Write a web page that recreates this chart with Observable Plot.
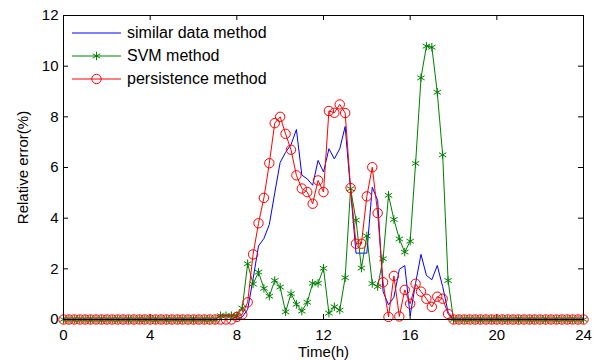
<!DOCTYPE html>
<html><head><meta charset="utf-8">
<script src="https://cdn.jsdelivr.net/npm/d3@7"></script>
<script src="https://cdn.jsdelivr.net/npm/@observablehq/plot@0.6"></script>
<style>
body{margin:0;background:#fff;}
#wrap{position:relative;width:601px;height:360px;font-family:"Liberation Sans",Arial,Helvetica,sans-serif;}
#legend{position:absolute;left:72px;top:21px;font-size:16px;color:#000;}
#legend .row{height:23px;display:flex;align-items:center;white-space:nowrap;}
#legend svg{margin-right:6px;overflow:visible;}
</style></head><body><div id="wrap"></div>
<script>
const hours = [0,0.25,0.5,0.75,1,1.25,1.5,1.75,2,2.25,2.5,2.75,3,3.25,3.5,3.75,4,4.25,4.5,4.75,5,5.25,5.5,5.75,6,6.25,6.5,6.75,7,7.25,7.5,7.75,8,8.25,8.5,8.75,9,9.25,9.5,9.75,10,10.25,10.5,10.75,11,11.25,11.5,11.75,12,12.25,12.5,12.75,13,13.25,13.5,13.75,14,14.25,14.5,14.75,15,15.25,15.5,15.75,16,16.25,16.5,16.75,17,17.25,17.5,17.75,18,18.25,18.5,18.75,19,19.25,19.5,19.75,20,20.25,20.5,20.75,21,21.25,21.5,21.75,22,22.25,22.5,22.75,23,23.25,23.5,23.75,24];
const similarData = [0,0,0,0,0,0,0,0,0,0,0,0,0,0,0,0,0,0,0,0,0,0,0,0,0,0,0,0,0,0,0,0,0,
  0.1,0.4,1.6,2.9,3.2,3.75,5.0,6.2,6.6,6.9,7.5,5.7,5.55,5.3,6.28,5.82,6.74,6.34,6.74,7.62,5.1,2.62,2.62,2.62,5.22,4.7,1.1,0.58,0.88,1.98,2.13,0.15,1.43,2.57,1.74,1.57,2.13,1.3,0.29,
  0,0,0,0,0,0,0,0,0,0,0,0,0,0,0,0,0,0,0,0,0,0,0,0,0];
const svmData = [0,0,0,0,0,0,0,0,0,0,0,0,0,0,0,0,0,0,0,0,0,0,0,0,0,0,0,0,0,
  0.15,0.15,0.15,0.15,0.45,2.2,1.4,1.87,1.23,0.92,1.54,1.28,0.3,1.02,0.6,0.33,0.68,1.43,1.43,2.02,0.25,0.5,0.37,1.65,5.16,3.92,2.03,3.3,1.42,1.3,2.4,4.9,3.95,3.18,2.66,3.09,6.16,9.54,10.79,10.75,8.97,6.5,1.54,
  0,0,0,0,0,0,0,0,0,0,0,0,0,0,0,0,0,0,0,0,0,0,0,0,0];
const persistenceData = [0,0,0,0,0,0,0,0,0,0,0,0,0,0,0,0,0,0,0,0,0,0,0,0,0,0,0,0,0,0,0,0,
  0.1,0.2,0.68,2.57,3.8,4.8,6.17,7.75,8.0,7.33,6.7,5.69,5.17,5.03,4.57,5.49,5.03,8.23,8.16,8.49,8.15,5.19,2.99,2.99,4.86,6.01,4.2,1.47,0.1,1.72,0.12,1.17,0.62,1.41,1.1,0.82,0.5,0.9,0.82,0.22,
  0,0,0,0,0,0,0,0,0,0,0,0,0,0,0,0,0,0,0,0,0,0,0,0,0];
const xTicks = [0,4,8,12,16,20,24];
const yTicks = [0,2,4,6,8,10,12];
const seriesNames = ["similar data method","SVM method","persistence method"];
const seriesColors = ["#0000ff","#008000","#ff0000"];
const seriesSymbols = [null,"asterisk","circle"];
const xLabel = "Time(h)";
const yLabel = "Relative error(%)";

const W = 601, H = 360, mL = 63, mR = 18, mT = 15, mB = 41;
const plotW = W - mL - mR, plotH = H - mT - mB;
const rows = hours.map((h, i) => ({h, s: similarData[i], v: svmData[i], p: persistenceData[i]}));

const chart = Plot.plot({
  width: W, height: H,
  marginLeft: mL, marginRight: mR, marginTop: mT, marginBottom: mB,
  style: {fontFamily: '"Liberation Sans",Arial,Helvetica,sans-serif', fontSize: "15px", color: "#000", background: "#fff", overflow: "visible"},
  x: {domain: [0, 24]},
  y: {domain: [0, 12]},
  marks: [
    Plot.axisX(xTicks, {tickSize: 0, tickPadding: 10, label: xLabel, labelAnchor: "center", labelOffset: 37, labelArrow: "none", fontSize: 15}),
    Plot.axisY(yTicks, {tickSize: 0, tickPadding: 5, label: yLabel, labelAnchor: "center", labelOffset: 46, labelArrow: "none", fontSize: 15}),
    Plot.tickX(xTicks, {x: d => d, insetTop: plotH - 5, stroke: "#000"}),
    Plot.tickX(xTicks, {x: d => d, insetBottom: plotH - 5, stroke: "#000"}),
    Plot.tickY(yTicks, {y: d => d, insetRight: plotW - 5, stroke: "#000"}),
    Plot.tickY(yTicks, {y: d => d, insetLeft: plotW - 5, stroke: "#000"}),
    Plot.line(rows, {x: "h", y: "s", stroke: seriesColors[0], strokeWidth: 1}),
    Plot.line(rows, {x: "h", y: "v", stroke: seriesColors[1], strokeWidth: 1}),
    Plot.dot(rows, {x: "h", y: "v", symbol: seriesSymbols[1], r: 4, stroke: seriesColors[1], strokeWidth: 1}),
    Plot.line(rows, {x: "h", y: "p", stroke: seriesColors[2], strokeWidth: 1}),
    Plot.dot(rows, {x: "h", y: "p", symbol: seriesSymbols[2], r: 4.7, stroke: seriesColors[2], fill: "none", strokeWidth: 1}),
    Plot.frame({stroke: "#000"})
  ]
});
const wrap = document.getElementById("wrap");
wrap.appendChild(chart);

// legend overlay
const legend = document.createElement("div");
legend.id = "legend";
seriesNames.forEach((name, i) => {
  const row = document.createElement("div");
  row.className = "row";
  const sym = seriesSymbols[i] ? d3.symbol(seriesSymbols[i] === "asterisk" ? d3.symbolAsterisk : d3.symbolCircle, seriesSymbols[i] === "asterisk" ? Math.PI * 16 : Math.PI * 4.7 * 4.7)() : "";
  row.innerHTML = `<svg width="49" height="14"><line x1="0" x2="49" y1="7" y2="7" stroke="${seriesColors[i]}"/>` +
    (sym ? `<path transform="translate(24.5,7)" d="${sym}" fill="none" stroke="${seriesColors[i]}"/>` : "") +
    `</svg><span>${name}</span>`;
  legend.appendChild(row);
});
wrap.appendChild(legend);
</script>
</body></html>
